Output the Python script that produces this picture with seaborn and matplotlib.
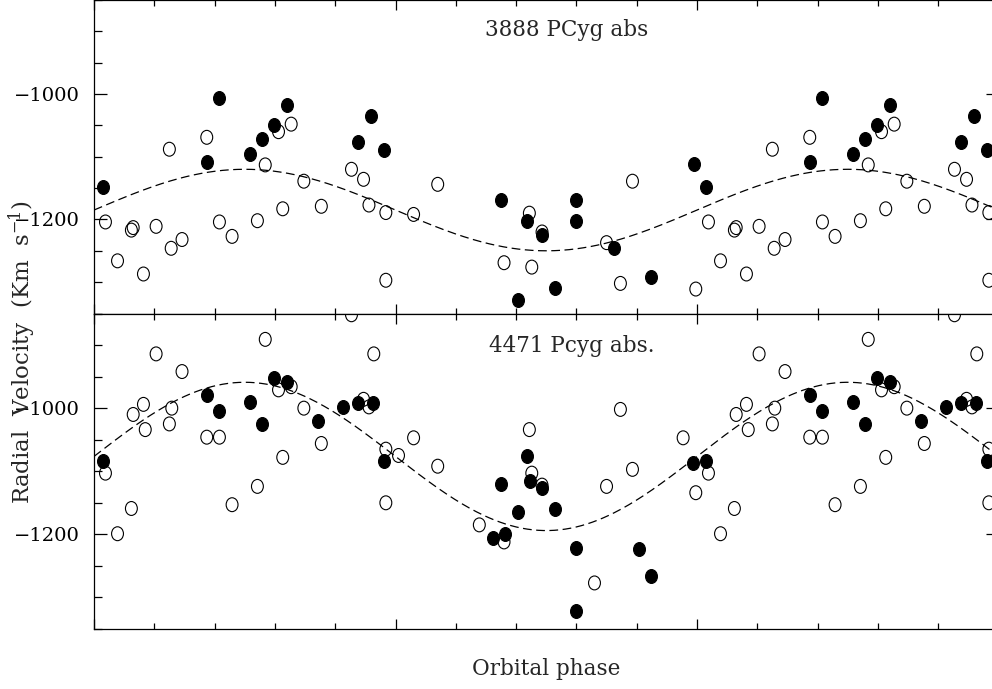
import numpy as np
import pandas as pd
import matplotlib
matplotlib.use("Agg")
import matplotlib.pyplot as plt
import seaborn as sns
from matplotlib.path import Path
from matplotlib.transforms import Affine2D
from matplotlib.ticker import MultipleLocator, NullFormatter

# ---------------- data (orbital phase 0..1; plotted again for phase 1..1.5) ----------------
top_filled_phase = [0.015, 0.188, 0.208, 0.258, 0.279, 0.299, 0.320, 0.438, 0.460, 0.481,
                    0.675, 0.703, 0.718, 0.743, 0.765, 0.799, 0.799, 0.862, 0.924, 0.995]
top_filled_rv = [-1148, -1108, -1007, -1096, -1072, -1050, -1018, -1077, -1035, -1089,
                 -1169, -1328, -1203, -1225, -1310, -1169, -1202, -1246, -1292, -1111]

top_open_phase = [0.019, 0.039, 0.062, 0.065, 0.082, 0.103, 0.125, 0.128, 0.146, 0.187,
                  0.208, 0.229, 0.271, 0.284, 0.306, 0.327, 0.313, 0.348, 0.377, 0.427,
                  0.447, 0.456, 0.484, 0.484, 0.530, 0.570, 0.680, 0.722, 0.726, 0.743,
                  0.850, 0.873, 0.893, 0.998]
top_open_rv = [-1204, -1266, -1217, -1213, -1287, -1211, -1088, -1246, -1232, -1069,
               -1204, -1227, -1202, -1113, -1060, -1048, -1183, -1139, -1179, -1120,
               -1136, -1177, -1189, -1297, -1192, -1144, -1269, -1190, -1276, -1220,
               -1237, -1302, -1139, -1311]

bot_filled_phase = [0.015, 0.188, 0.208, 0.258, 0.279, 0.299, 0.320, 0.372, 0.413, 0.438,
                    0.462, 0.481, 0.661, 0.675, 0.682, 0.703, 0.718, 0.723, 0.743, 0.765,
                    0.799, 0.799, 0.903, 0.924, 0.994]
bot_filled_rv = [-1083, -979, -1005, -990, -1025, -953, -958, -1020, -998, -992,
                 -992, -1083, -1206, -1120, -1200, -1165, -1076, -1115, -1127, -1160,
                 -1222, -1322, -1223, -1266, -1087]

bot_open_phase = [0.019, 0.039, 0.062, 0.065, 0.082, 0.085, 0.103, 0.125, 0.129, 0.146,
                  0.187, 0.208, 0.229, 0.271, 0.284, 0.306, 0.327, 0.313, 0.348, 0.377,
                  0.427, 0.447, 0.456, 0.464, 0.484, 0.484, 0.505, 0.530, 0.570, 0.639,
                  0.680, 0.722, 0.726, 0.743, 0.830, 0.850, 0.873, 0.893, 0.977, 0.998]
bot_open_rv = [-1103, -1199, -1159, -1010, -994, -1034, -914, -1025, -1000, -942,
               -1046, -1046, -1153, -1124, -891, -971, -966, -1078, -1000, -1056,
               -852, -986, -998, -914, -1065, -1150, -1075, -1047, -1092, -1185,
               -1212, -1034, -1103, -1122, -1277, -1124, -1002, -1097, -1047, -1134]

# fitted sinusoid parameters (systemic velocity, semi-amplitude)
top_gamma, top_K = -1185, 65
bot_gamma, bot_K = -1076.5, 117.5

top_title = "3888 PCyg abs"
bot_title = "4471 Pcyg abs."
x_label = "Orbital phase"
y_label = "Radial  Velocity  (Km  s$^{-1}$)"

# ---------------- style ----------------
sns.set_style("ticks")
plt.rcParams["font.family"] = ["DejaVu Serif"]
plt.rcParams["mathtext.fontset"] = "dejavuserif"
plt.rcParams["axes.unicode_minus"] = True

W, H = 992, 689
fig = plt.figure(figsize=(W / 100, H / 100), dpi=100)
left = 94 / W
right = 998.5 / W
ax_top = fig.add_axes([left, 1 - 313.5 / H, right - left, 313.5 / H])
ax_bot = fig.add_axes([left, 1 - 629 / H, right - left, (629 - 313.5) / H])

ellipse = Path.unit_circle().transformed(Affine2D().scale(1.0, 1.17))


def extend(phase, rv):
    df = pd.DataFrame({"phase": phase, "rv": rv})
    df2 = df[df["phase"] + 1 <= 1.52].assign(phase=lambda d: d["phase"] + 1)
    return pd.concat([df, df2], ignore_index=True)


grid = np.linspace(0, 1.5, 500)

panels = [
    (ax_top, top_filled_phase, top_filled_rv, top_open_phase, top_open_rv, top_gamma, top_K,
     top_title, 0.432, 0.885),
    (ax_bot, bot_filled_phase, bot_filled_rv, bot_open_phase, bot_open_rv, bot_gamma, bot_K,
     bot_title, 0.437, 0.879),
]

for ax, fp, fr, op, orv, gam, K, title, tx, ty in panels:
    curve = pd.DataFrame({"phase": grid, "rv": gam + K * np.sin(2 * np.pi * grid)})
    sns.lineplot(data=curve, x="phase", y="rv", ax=ax, color="black", linewidth=0.9,
                 linestyle=(0, (7, 3.6)))
    d_open = extend(op, orv)
    sns.scatterplot(data=d_open, x="phase", y="rv", ax=ax, marker=ellipse, s=100,
                    facecolor="none", edgecolor="black", linewidth=0.8, zorder=3)
    d_fill = extend(fp, fr)
    sns.scatterplot(data=d_fill, x="phase", y="rv", ax=ax, marker=ellipse, s=100,
                    color="black", edgecolor="black", linewidth=0.8, zorder=4)

    ax.set_xlim(0, 1.5)
    ax.set_ylim(-1350, -850)
    ax.xaxis.set_major_locator(MultipleLocator(0.5))
    ax.xaxis.set_minor_locator(MultipleLocator(0.1))
    ax.yaxis.set_major_locator(MultipleLocator(200))
    ax.yaxis.set_minor_locator(MultipleLocator(50))
    ax.xaxis.set_major_formatter(NullFormatter())
    ax.tick_params(axis="both", which="both", direction="in", top=True, right=True,
                   color="black", width=0.9, labelbottom=False)
    ax.tick_params(axis="x", which="major", length=7.2)
    ax.tick_params(axis="x", which="minor", length=4.3)
    ax.tick_params(axis="y", which="major", length=9.5, labelsize=14, pad=10,
                   labelcolor="black")
    ax.tick_params(axis="y", which="minor", length=5.4)
    for sp in ax.spines.values():
        sp.set_linewidth(0.9)
        sp.set_color("black")
    ax.set_xlabel("")
    ax.set_ylabel("")
    ax.text(tx, ty, title, transform=ax.transAxes, fontsize=15.5, ha="left", va="baseline")

fig.text(546 / W, 1 - 675 / H, x_label, ha="center", va="baseline", fontsize=15.5)
fig.text(22 / W, 1 - 352 / H, y_label, rotation=90, ha="center", va="center", fontsize=16.5)

fig.savefig("out.png", dpi=100)
